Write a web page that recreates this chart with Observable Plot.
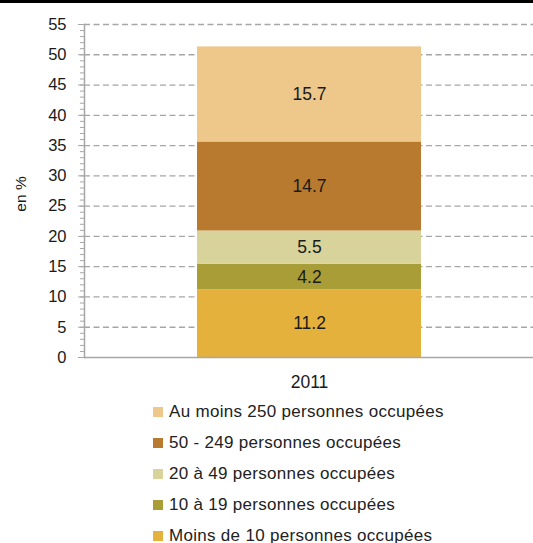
<!DOCTYPE html>
<html>
<head>
<meta charset="utf-8">
<script src="https://cdn.jsdelivr.net/npm/d3@7"></script>
<script src="https://cdn.jsdelivr.net/npm/@observablehq/plot@0.6"></script>
<style>
  body { margin: 0; background: #fff; font-family: "Liberation Sans", Arial, sans-serif; }
  #topbar { height: 3px; background: #000; width: 533px; }
  #chart svg { display: block; }
  #legend { margin-left: 153px; margin-top: 3px; }
  .item { display: flex; align-items: center; height: 31px; font-size: 17px; letter-spacing: 0.3px; color: #222; }
  .sw { width: 10px; height: 10px; margin-right: 6px; flex: none; }
</style>
</head>
<body>
<div id="topbar"></div>
<div id="chart"></div>
<div id="legend"></div>
<script>
const years = ["2011"];
const categories = [
  "Moins de 10 personnes occupées",
  "10 à 19 personnes occupées",
  "20 à 49 personnes occupées",
  "50 - 249 personnes occupées",
  "Au moins 250 personnes occupées"
];
const values = [11.2, 4.2, 5.5, 14.7, 15.7];
const colors = ["#e4b23c", "#a89d36", "#d8d29b", "#b87a2e", "#eec78a"];
const yTicks = [0, 5, 10, 15, 20, 25, 30, 35, 40, 45, 50, 55];
const yMinor = d3.range(0, 56, 1);

const data = categories.map((c, i) => ({year: years[0], cat: c, value: values[i]}));

const chart = Plot.plot({
  width: 533,
  height: 390,
  marginTop: 21,
  marginBottom: 36,
  marginLeft: 84,
  marginRight: 0,
  style: {fontFamily: "Liberation Sans, Arial, sans-serif", fontSize: "16px", color: "#222"},
  x: {domain: years, padding: 1/3, label: null},
  y: {domain: [0, 55], label: null},
  color: {domain: categories, range: colors},
  marks: [
    Plot.gridY(yTicks.slice(1), {stroke: "#a6a6a6", strokeOpacity: 1, strokeDasharray: "6,3.5", strokeWidth: 1.3}),
    Plot.barY(data, {x: "year", y: "value", fill: "cat"}),
    Plot.text(data, Plot.stackY({x: "year", y: "value", text: d => d.value.toFixed(1), fill: "#1a1a1a", fontSize: 17.5})),
    Plot.axisY(yMinor, {tickSize: 4, stroke: "#a6a6a6", tickFormat: () => ""}),
    Plot.axisY(yTicks, {tickSize: 6, tickPadding: 12, stroke: "#a6a6a6", fill: "#1a1a1a", fontSize: 16.5}),
    Plot.ruleY([0], {stroke: "#a6a6a6", strokeWidth: 1.5}),
    Plot.frame({anchor: "left", stroke: "#a6a6a6", strokeWidth: 1.5}),
    Plot.axisX({tickSize: 0, tickPadding: 18, fill: "#1a1a1a", fontSize: 17.5, label: null}),
    Plot.text(["en %"], {frameAnchor: "left", textAnchor: "middle", dx: -63, dy: 3, rotate: -90, fontSize: 15.5, fill: "#1a1a1a"})
  ]
});
document.getElementById("chart").appendChild(chart);

const legend = document.getElementById("legend");
for (let i = categories.length - 1; i >= 0; i--) {
  const row = document.createElement("div");
  row.className = "item";
  const sw = document.createElement("span");
  sw.className = "sw";
  sw.style.background = colors[i];
  const t = document.createElement("span");
  t.textContent = categories[i];
  row.appendChild(sw);
  row.appendChild(t);
  legend.appendChild(row);
}
</script>
</body>
</html>
